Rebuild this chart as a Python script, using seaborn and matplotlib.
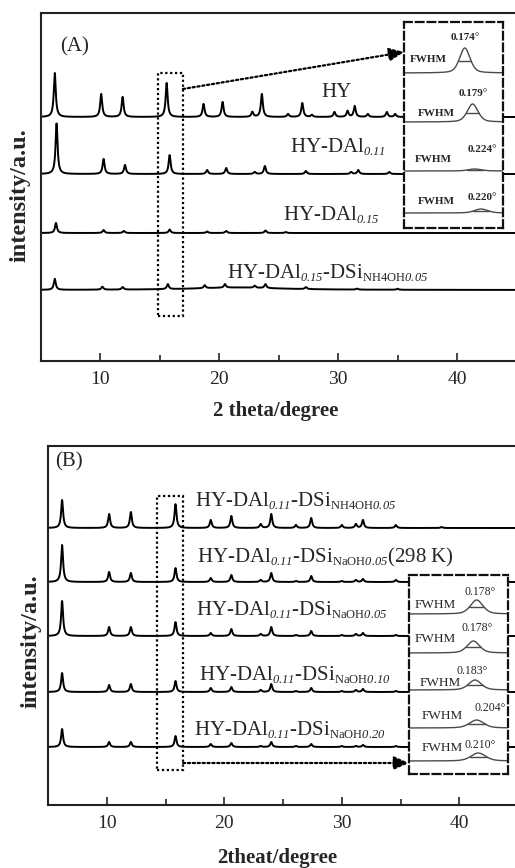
import numpy as np
import pandas as pd
import matplotlib
matplotlib.use("Agg")
import matplotlib.pyplot as plt
import matplotlib._mathtext as _mt
import seaborn as sns
from matplotlib.ticker import MultipleLocator
from matplotlib.patches import Rectangle

# ---------------- data ----------------
# Panel A: peak positions (2theta, deg) and heights (a.u.)
hy_pos = [6.2, 10.1, 11.9, 15.6, 18.7, 20.3, 22.8, 23.6, 25.8, 27.0, 27.8, 29.7, 30.8, 31.4, 32.5, 34.1, 34.8]
hy_int = [44, 23, 20, 34, 13, 15, 5, 23, 3, 14, 2, 5, 6, 11, 3, 5, 3]
dal011_pos = [6.35, 10.3, 12.1, 15.85, 19.0, 20.6, 23.0, 23.85, 27.3, 31.1, 31.7, 34.3]
dal011_int = [51, 15, 9, 19, 4, 6, 2, 8, 3, 2, 4, 2]
dal015_pos = [6.3, 10.3, 12.0, 15.85, 19.0, 20.6, 23.9, 25.6]
dal015_int = [10, 3, 2, 3.5, 1.5, 2, 2.5, 1]
dsi_pos = [6.2, 10.2, 11.9, 15.7, 18.8, 20.5, 23.0, 23.9, 27.3, 31.6, 35.0]
dsi_int = [11, 3, 2.5, 5, 3, 3.5, 2, 4, 2, 1, 1]
dsi_hump = (21.5, 2.5, 9.0)  # amorphous background: position, height, width

labels_a = ["HY", "HY-DAl$_{\\mathsf{0.11}}$", "HY-DAl$_{\\mathsf{0.15}}$",
            "HY-DAl$_{\\mathsf{0.15}}$-DSi$_{\\mathrm{NH4OH}\\mathsf{0.05}}$"]

# Panel B
b_pos = [6.2, 10.2, 12.05, 15.85, 18.85, 20.6, 23.1, 24.0, 26.1, 27.4, 30.0, 31.2, 31.8, 34.6, 38.5]
nh4oh005 = [28, 14, 16, 24, 8, 12, 4, 14, 3, 10, 3, 4, 8, 3, 1]
naoh005_298 = [37, 10, 9, 14, 4, 7, 2, 9, 1, 6, 1, 2, 3, 2, 0.5]
naoh005 = [35, 9, 9, 14, 3, 7, 2, 9, 1, 5, 1, 2, 3, 1, 0.5]
naoh010 = [19, 7, 8, 11, 4, 5, 2, 8, 1, 4, 1, 2, 3, 1, 0.5]
naoh020 = [18, 5, 5, 11, 3, 4, 1, 5, 1, 3, 1, 1, 2, 1, 0.5]

labels_b = ["HY-DAl$_{\\mathsf{0.11}}$-DSi$_{\\mathrm{NH4OH}\\mathsf{0.05}}$",
            "HY-DAl$_{\\mathsf{0.11}}$-DSi$_{\\mathrm{NaOH}\\mathsf{0.05}}$(298 K)",
            "HY-DAl$_{\\mathsf{0.11}}$-DSi$_{\\mathrm{NaOH}\\mathsf{0.05}}$",
            "HY-DAl$_{\\mathsf{0.11}}$-DSi$_{\\mathrm{NaOH}\\mathsf{0.10}}$",
            "HY-DAl$_{\\mathsf{0.11}}$-DSi$_{\\mathrm{NaOH}\\mathsf{0.20}}$"]

# Insets: FWHM of the ~15.7 deg reflection
inA_center = [15.61, 15.72, 15.75, 15.84]
inA_fwhm = [0.174, 0.179, 0.224, 0.220]
inA_height = [25, 18, 2, 4]
inB_center = [15.87, 15.83, 15.85, 15.87, 15.89]
inB_fwhm = [0.178, 0.178, 0.183, 0.204, 0.210]
inB_height = [14, 12, 10, 8, 8]

# ---------------- layout constants ----------------
offsets_a = [244, 187, 128, 71]
offsets_b = [277, 223, 169, 113, 58]
inA_base = [155, 106, 57, 15]
inB_base = [160, 121, 84, 46, 13]
PEAK_W = 0.2

sns.set_style("ticks")
plt.rcParams["font.family"] = ["Liberation Serif", "DejaVu Serif"]
plt.rcParams["mathtext.fontset"] = "custom"
plt.rcParams["mathtext.rm"] = "Liberation Serif"
plt.rcParams["mathtext.it"] = "Liberation Serif:italic"
plt.rcParams["mathtext.sf"] = "Liberation Serif:italic"
plt.rcParams["mathtext.bf"] = "Liberation Serif:bold"
try:
    _mt.SHRINK_FACTOR = 0.6
except Exception:
    pass


def lorentz_sum(x, pos, inten, w):
    y = np.zeros_like(x)
    for p, h in zip(pos, inten):
        y += h / (1 + ((x - p) / (w / 2)) ** 2)
    return y


def pvoigt(x, c, fwhm, h):
    g = np.exp(-4 * np.log(2) * ((x - c) / fwhm) ** 2)
    l = 1 / (1 + ((x - c) / (fwhm / 2)) ** 2)
    return h * (0.6 * g + 0.4 * l)


fig = plt.figure(figsize=(5.15, 8.68), dpi=100)
axA = fig.add_axes([40.5 / 515, 1 - 361 / 868, 474.5 / 515, 348 / 868])
axB = fig.add_axes([48 / 515, 1 - 805 / 868, 467 / 515, 359 / 868])

x = np.arange(5, 45.01, 0.02)

# ---- panel A traces ----
traces_a = [(hy_pos, hy_int), (dal011_pos, dal011_int), (dal015_pos, dal015_int), (dsi_pos, dsi_int)]
rows = []
for i, (pos, inten) in enumerate(traces_a):
    y = lorentz_sum(x, pos, inten, PEAK_W)
    if i == 3:
        y = y + lorentz_sum(x, [dsi_hump[0]], [dsi_hump[1]], dsi_hump[2])
    rows.append(pd.DataFrame({"two_theta": x, "intensity": y + offsets_a[i], "sample": labels_a[i]}))
dfA = pd.concat(rows)
sns.lineplot(data=dfA, x="two_theta", y="intensity", units="sample", estimator=None,
             color="black", lw=1.4, ax=axA, legend=False, sort=False)

# ---- panel B traces ----
traces_b = [nh4oh005, naoh005_298, naoh005, naoh010, naoh020]
rows = []
for i, inten in enumerate(traces_b):
    y = lorentz_sum(x, b_pos, inten, PEAK_W)
    rows.append(pd.DataFrame({"two_theta": x, "intensity": y + offsets_b[i], "sample": labels_b[i]}))
dfB = pd.concat(rows)
sns.lineplot(data=dfB, x="two_theta", y="intensity", units="sample", estimator=None,
             color="black", lw=1.4, ax=axB, legend=False, sort=False)

for ax, xmax, ymax in [(axA, 44.87, 348), (axB, 44.74, 359)]:
    ax.set_xlim(5, xmax)
    ax.set_ylim(0, ymax)
    ax.set_yticks([])
    ax.xaxis.set_major_locator(MultipleLocator(10))
    ax.xaxis.set_minor_locator(MultipleLocator(5))
    ax.tick_params(axis="x", which="major", direction="in", length=6, width=1.2,
                   labelsize=14, pad=7)
    ax.tick_params(axis="x", which="minor", direction="in", length=4, width=1.2)
    ax.spines["right"].set_visible(False)
    for s in ["left", "top", "bottom"]:
        ax.spines[s].set_linewidth(1.5)
        ax.spines[s].set_color("#222222")
    ax.set_ylabel("intensity/a.u.", fontsize=17.5, fontweight="bold")

axA.set_xlabel("2 theta/degree", fontsize=15, fontweight="bold")
axB.set_xlabel("2theat/degree", fontsize=15, fontweight="bold")
axA.xaxis.set_label_coords(0.496, -0.115)
axB.xaxis.set_label_coords(0.49, -0.121)
axA.yaxis.set_label_coords(-0.022, 0.477)
axB.yaxis.set_label_coords(-0.015, 0.457)

# labels
axA.text(6.64, 310, "(A)", fontsize=15)
axB.text(5.6, 339, "(B)", fontsize=15)
pos_lab_a = [(28.57, 264), (25.97, 209), (25.4, 141), (20.67, 83)]
for (tx, ty), lab in zip(pos_lab_a, labels_a):
    axA.text(tx, ty, lab, fontsize=15, va="baseline")
pos_lab_b = [(17.5, 299), (17.7, 243), (17.6, 190), (17.85, 125), (17.4, 70)]
for (tx, ty), lab in zip(pos_lab_b, labels_b):
    axB.text(tx, ty, lab, fontsize=15, va="baseline")

# dotted selection boxes and arrows
axA.add_patch(Rectangle((14.87, 45), 2.1, 243, fill=False, ls=(0, (1, 1.2)), lw=1.6, color="black"))
axB.add_patch(Rectangle((14.28, 35), 2.21, 274, fill=False, ls=(0, (1, 1.2)), lw=1.6, color="black"))
arrow_kw = dict(arrowstyle="-|>,head_length=0.9,head_width=0.4", linestyle=(0, (1, 1.2)),
                lw=1.6, color="black", shrinkA=0, shrinkB=0)
axA.annotate("", xy=(35.55, 309), xytext=(16.97, 272), arrowprops=arrow_kw)
axB.annotate("", xy=(35.72, 42), xytext=(16.49, 42), arrowprops=arrow_kw)

# ---- insets ----
def make_inset(rect, xlim, ylim_top):
    ai = fig.add_axes(rect)
    ai.set_facecolor("white")
    ai.set_zorder(10)
    ai.set_xlim(*xlim)
    ai.set_ylim(0, ylim_top)
    ai.set_xticks([])
    ai.set_yticks([])
    for s in ai.spines.values():
        s.set_linestyle((0, (3.5, 1.8)))
        s.set_linewidth(1.6)
        s.set_color("#111111")
        s.set_visible(True)
    return ai

insA = make_inset([404 / 515, 1 - 228 / 868, 99 / 515, 206 / 868], (14.75, 16.15), 206)
insB = make_inset([409 / 515, 1 - 774 / 868, 99 / 515, 199 / 868], (15.05, 16.25), 199)

GRAY = "#4a4a4a"


def fill_inset(ai, centers, fwhms, heights, bases, xlim, fw_xy, val_xy, w, h, fsz_f, fsz_v, weight):
    xi = np.linspace(xlim[0], xlim[1], 400)
    rows = []
    for k, (c, f, hh, b) in enumerate(zip(centers, fwhms, heights, bases)):
        rows.append(pd.DataFrame({"two_theta": xi, "intensity": pvoigt(xi, c, f, hh) + b, "curve": k}))
        ai.plot([c - f / 2, c + f / 2], [b + hh / 2, b + hh / 2], color=GRAY, lw=1.0)
        ai.text(fw_xy[k][0] / w, fw_xy[k][1] / h, "FWHM", transform=ai.transAxes,
                fontsize=fsz_f, fontweight=weight, ha="left", va="center")
        ai.text(val_xy[k][0] / w, val_xy[k][1] / h, f"{f:.3f}°", transform=ai.transAxes,
                fontsize=fsz_v, fontweight=weight, ha="center", va="center")
    d = pd.concat(rows)
    sns.lineplot(data=d, x="two_theta", y="intensity", units="curve", estimator=None,
                 color=GRAY, lw=1.0, ax=ai, legend=False, sort=False)
    ai.set_xlabel("")
    ai.set_ylabel("")


fill_inset(insA, inA_center, inA_fwhm, inA_height, inA_base, (14.75, 16.15),
           [(6, 169), (14, 115), (11, 69), (14, 27)],
           [(61, 190), (69, 134), (78, 78), (78, 31)], 99, 206, 8, 8, "bold")
fill_inset(insB, inB_center, inB_fwhm, inB_height, inB_base, (15.05, 16.25),
           [(6, 169), (6, 135), (11, 91), (13, 58), (13, 26)],
           [(71, 182), (68, 146), (63, 103), (81, 66), (71, 29)], 99, 199, 9.5, 8.5, "normal")

fig.savefig("out.png", dpi=100)
